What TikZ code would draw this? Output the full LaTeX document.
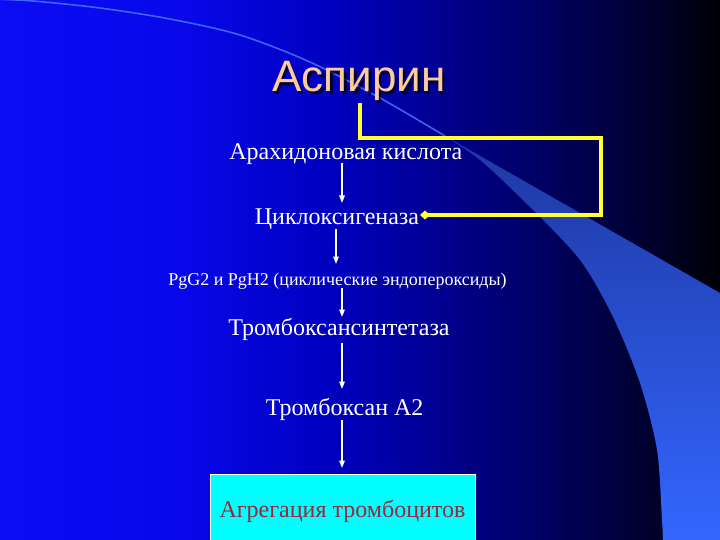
\documentclass[tikz,border=0pt]{standalone}
\usepackage{fontspec}
\setmainfont{Liberation Serif}
\newfontfamily\titlefont{Liberation Sans}
\usetikzlibrary{arrows.meta,calc}
\definecolor{peach}{RGB}{255,204,153}
\definecolor{yellowline}{RGB}{255,255,51}
\definecolor{agred}{RGB}{153,40,60}
\definecolor{boxcyan}{RGB}{0,255,255}
\definecolor{bandA}{RGB}{30,55,160}
\definecolor{bandB}{RGB}{48,94,235}
\definecolor{bandC}{RGB}{51,102,255}
\definecolor{bandline}{RGB}{70,110,250}
\pgfdeclarehorizontalshading{bgshade}{100bp}{rgb(0bp)=(0.047,0.047,0.96); rgb(25bp)=(0.047,0.047,0.96); rgb(37.5bp)=(0.03,0.03,0.92); rgb(47.9bp)=(0,0,0.75); rgb(56.25bp)=(0,0,0.55); rgb(63.9bp)=(0,0,0.35); rgb(70.1bp)=(0,0,0.18); rgb(75bp)=(0,0,0.02); rgb(100bp)=(0,0,0.02)}
\begin{document}
\begin{tikzpicture}[x=1pt,y=-1pt,
  txt/.style={text=white, font=\fontsize{24}{28}\selectfont, inner sep=0pt, anchor=base},
  arr/.style={draw=white, line width=1.6pt, -{Triangle[width=5.5pt,length=7.5pt]}},
  yel/.style={draw=yellowline, line width=3.5pt},
  ttl/.style={font=\titlefont\fontsize{44}{50}\selectfont, anchor=base, inner sep=0pt}]
\useasboundingbox (0,0) rectangle (720,540);
\clip (0,0) rectangle (720,540);
% background
\shade[shading=bgshade] (0,0) rectangle (720,540);
% decorative sweep
\draw[color=bandline, line width=1.6pt, opacity=0.9] plot[smooth] coordinates {(-10,-1) (33,1) (100,8) (170,19) (240,35) (310,62) (380,98) (445,136)};
\shade[top color=bandA, middle color=bandB, bottom color=bandC]
  (440,133) -- (720,293) -- (720,541) -- plot[smooth] coordinates {(663,541) (662,520) (657,450) (640,383) (613,317) (580,260) (530,207) (480,160) (440,133)} -- cycle;
% title
\node[ttl, text=black, opacity=0.7] at (361.5,94.5) {Аспирин};
\node[ttl, text=peach] (title) at (359,92) {Аспирин};
% chain
\node[txt] (n1) at (345.8,160) {Арахидоновая кислота};
\node[txt] (n2) at (337,225) {Циклоксигеназа};
\node[txt, font=\fontsize{18}{22}\selectfont] (n3) at (337.5,285) {PgG2 и PgH2 (циклические эндопероксиды)};
\node[txt] (n4) at (339,335) {Тромбоксансинтетаза};
\node[txt] (n5) at (344.7,415) {Тромбоксан А2};
\node (box) [fill=boxcyan, draw=white, line width=1pt, minimum width=265pt, minimum height=74pt, anchor=north, inner sep=0pt, text=agred, font=\fontsize{24}{28}\selectfont, text height=17pt, text depth=5pt] at (342.5,474) {Агрегация тромбоцитов};
\coordinate (colA) at (342,0);
\coordinate (colB) at (336,0);
\draw[arr] ($(n1.base -| colA)+(0,3)$) -- ($(n2.base -| colA)+(0,-22)$);
\draw[arr] ($(n2.base -| colB)+(0,4)$) -- ($(n3.base -| colB)+(0,-21)$);
\draw[arr] ($(n3.base -| colA)+(0,3)$) -- ($(n4.base -| colA)+(0,-18)$);
\draw[arr] ($(n4.base -| colA)+(0,8)$) -- ($(n5.base -| colA)+(0,-26)$);
\draw[arr] ($(n5.base -| colA)+(0,5)$) -- ($(box.north -| colA)+(0,-6)$);
% inhibition line
\coordinate (ys) at (360,103);
\coordinate (yc) at (601,138);
\coordinate (ye) at (420,215);
\draw[yel, -{Diamond[width=9pt,length=10pt]}] (ys) |- (yc) |- (ye);
\end{tikzpicture}
\end{document}
